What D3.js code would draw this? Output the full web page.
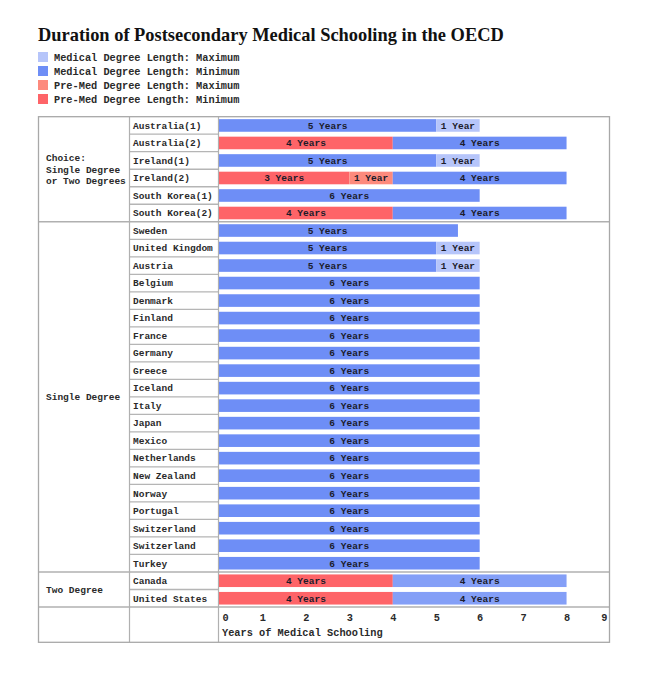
<!DOCTYPE html>
<html>
<head>
<meta charset="utf-8">
<script src="https://cdn.jsdelivr.net/npm/d3@7"></script>
<style>
  html, body { margin: 0; padding: 0; background: #fff; }
  svg text { font-family: "Courier New", "Liberation Mono", monospace; font-weight: bold; }
</style>
</head>
<body>
<svg id="chart" width="655" height="679"></svg>
<script>
// ---------------- DATA ----------------
const titleText = "Duration of Postsecondary Medical Schooling in the OECD";
const legendLabels = [
  "Medical Degree Length: Maximum",
  "Medical Degree Length: Minimum",
  "Pre-Med Degree Length: Maximum",
  "Pre-Med Degree Length: Minimum"
];
const groupNames = [
  ["Choice:", "Single Degree", "or Two Degrees"],
  ["Single Degree"],
  ["Two Degree"]
];
const countries = [
  "Australia(1)", "Australia(2)", "Ireland(1)", "Ireland(2)", "South Korea(1)", "South Korea(2)",
  "Sweden", "United Kingdom", "Austria", "Belgium", "Denmark", "Finland", "France", "Germany",
  "Greece", "Iceland", "Italy", "Japan", "Mexico", "Netherlands", "New Zealand", "Norway",
  "Portugal", "Switzerland", "Switzerland", "Turkey",
  "Canada", "United States"
];
const countryGroup = [0,0,0,0,0,0, 1,1,1,1,1,1,1,1,1,1,1,1,1,1,1,1,1,1,1,1, 2,2];
const preMedMin = [0,4,0,3,0,4, 0,0,0,0,0,0,0,0,0,0,0,0,0,0,0,0,0,0,0,0, 4,4];
const preMedMax = [0,0,0,1,0,0, 0,0,0,0,0,0,0,0,0,0,0,0,0,0,0,0,0,0,0,0, 0,0];
const medMin    = [5,4,5,4,6,4, 5.5,5,5,6,6,6,6,6,6,6,6,6,6,6,6,6,6,6,6,6, 4,4];
const medMax    = [1,0,1,0,0,0, 0,1,1,0,0,0,0,0,0,0,0,0,0,0,0,0,0,0,0,0, 0,0];
const xTicks = [0,1,2,3,4,5,6,7,8,9];
const xTitle = "Years of Medical Schooling";

// ---------------- LAYOUT ----------------
const svg = d3.select("#chart");
const colors = d3.scaleOrdinal()
  .domain(legendLabels)
  .range(["#b6c5fa", "#6e8ef6", "#fd8a7d", "#fe6468"]);

const tableLeft = 38.5, col1 = 129.5, col2 = 218.5, tableRight = 609.5;
const tableTop = 116.7, rowsBottom = 607, tableBottom = 642.3;

const x = d3.scaleLinear().domain([0, 9]).range([219, 610]);
const y = d3.scaleBand().domain(d3.range(countries.length))
  .range([tableTop, rowsBottom]).paddingInner(0.28).paddingOuter(0.14);
const step = y.step();

// Title
const title = svg.append("text")
  .attr("x", 38).attr("y", 41)
  .style("font-family", "'Liberation Serif', 'DejaVu Serif', serif")
  .style("font-weight", "bold")
  .style("font-size", "20px")
  .attr("fill", "#111")
  .text(titleText);
const tw = title.node().getComputedTextLength();
title.style("font-size", (20 * 466 / tw).toFixed(2) + "px");

// Legend
const legend = svg.append("g");
legendLabels.forEach((l, i) => {
  const g = legend.append("g").attr("transform", `translate(38,${52 + i * 14})`);
  g.append("rect").attr("width", 10).attr("height", 10).attr("fill", colors(l));
  g.append("text").attr("x", 16).attr("y", 5).attr("dy", "0.35em")
    .style("font-size", "10.3px").attr("fill", "#2a2a2a").text(l);
});

// Build segments from arrays
const segments = [];
countries.forEach((c, i) => {
  let start = 0;
  const parts = [
    [preMedMin[i], legendLabels[3]],
    [preMedMax[i], legendLabels[2]],
    [medMin[i], legendLabels[1]],
    [medMax[i], legendLabels[0]]
  ];
  parts.forEach(([v, type]) => {
    if (v > 0) {
      const yrs = Math.floor(v);
      segments.push({ row: i, start, end: start + v, type, yrs, group: countryGroup[i] });
      start += v;
    }
  });
});

// Group boundaries
const groupStarts = [];
countryGroup.forEach((g, i) => { if (i === 0 || countryGroup[i - 1] !== g) groupStarts.push(i); });
const rowEdge = i => tableTop + i * step;

const grid = svg.append("g").attr("fill", "none");
countries.forEach((c, i) => {
  if (i > 0 && countryGroup[i - 1] === countryGroup[i]) {
    grid.append("line").attr("x1", col1).attr("x2", col2)
      .attr("y1", rowEdge(i)).attr("y2", rowEdge(i))
      .attr("stroke", "#b5b5b5").attr("stroke-width", 1.3);
  }
});
groupStarts.slice(1).concat([countries.length]).forEach(i => {
  grid.append("line").attr("x1", tableLeft).attr("x2", tableRight)
    .attr("y1", rowEdge(i)).attr("y2", rowEdge(i))
    .attr("stroke", "#b0b0b0").attr("stroke-width", 1.3);
});
[col1, col2].forEach(cx => {
  grid.append("line").attr("x1", cx).attr("x2", cx)
    .attr("y1", tableTop).attr("y2", tableBottom)
    .attr("stroke", "#b0b0b0").attr("stroke-width", 1.2);
});
grid.append("rect").attr("x", tableLeft).attr("y", tableTop)
  .attr("width", tableRight - tableLeft).attr("height", tableBottom - tableTop)
  .attr("stroke", "#a8a8a8").attr("stroke-width", 1.3);

// Group labels
groupNames.forEach((lines, gi) => {
  const first = groupStarts[gi];
  const last = gi + 1 < groupStarts.length ? groupStarts[gi + 1] : countries.length;
  const cy = (rowEdge(first) + rowEdge(last)) / 2;
  const lh = 11.3;
  lines.forEach((t, k) => {
    svg.append("text").attr("x", 46)
      .attr("y", cy + (k - (lines.length - 1) / 2) * lh)
      .attr("dy", "0.35em").style("font-size", "9.5px").attr("fill", "#2a2a2a")
      .text(t);
  });
});

// Country labels
svg.append("g").selectAll("text").data(countries).join("text")
  .attr("x", 133).attr("y", (d, i) => y(i) + y.bandwidth() / 2)
  .attr("dy", "0.35em").style("font-size", "9.5px").attr("fill", "#2a2a2a")
  .text(d => d);

// Bars
svg.append("g").selectAll("rect").data(segments).join("rect")
  .attr("x", d => x(d.start)).attr("width", d => x(d.end) - x(d.start))
  .attr("y", d => y(d.row)).attr("height", y.bandwidth())
  .attr("fill", d => colors(d.type))
  .attr("fill-opacity", d => (d.group === 2 && d.type === legendLabels[1]) ? 0.85 : 1);

// Bar labels
svg.append("g").selectAll("text").data(segments).join("text")
  .attr("x", d => x(d.start + d.yrs / 2))
  .attr("y", d => y(d.row) + y.bandwidth() / 2)
  .attr("dy", "0.35em").attr("text-anchor", "middle")
  .style("font-size", "9.5px").attr("fill", "#1c1c2a")
  .text(d => d.yrs + (d.yrs === 1 ? " Year" : " Years"));

// X axis
const axisG = svg.append("g").attr("transform", `translate(0,${rowsBottom + 4})`)
  .call(d3.axisBottom(x).tickValues(xTicks).tickSize(0).tickPadding(0));
axisG.select(".domain").remove();
axisG.selectAll("text")
  .style("font-family", "'Courier New', 'Liberation Mono', monospace")
  .style("font-weight", "bold")
  .style("font-size", "10.3px").attr("fill", "#2a2a2a")
  .attr("y", 6).attr("dy", "0.35em")
  .attr("text-anchor", d => d === 0 ? "start" : (d === 9 ? "end" : "middle"))
  .attr("dx", d => d === 0 ? 3 : (d === 9 ? -3 : 0));
svg.append("text").attr("x", 222).attr("y", rowsBottom + 25.5).attr("dy", "0.35em")
  .style("font-size", "10.3px").attr("fill", "#2a2a2a").text(xTitle);
</script>
</body>
</html>
